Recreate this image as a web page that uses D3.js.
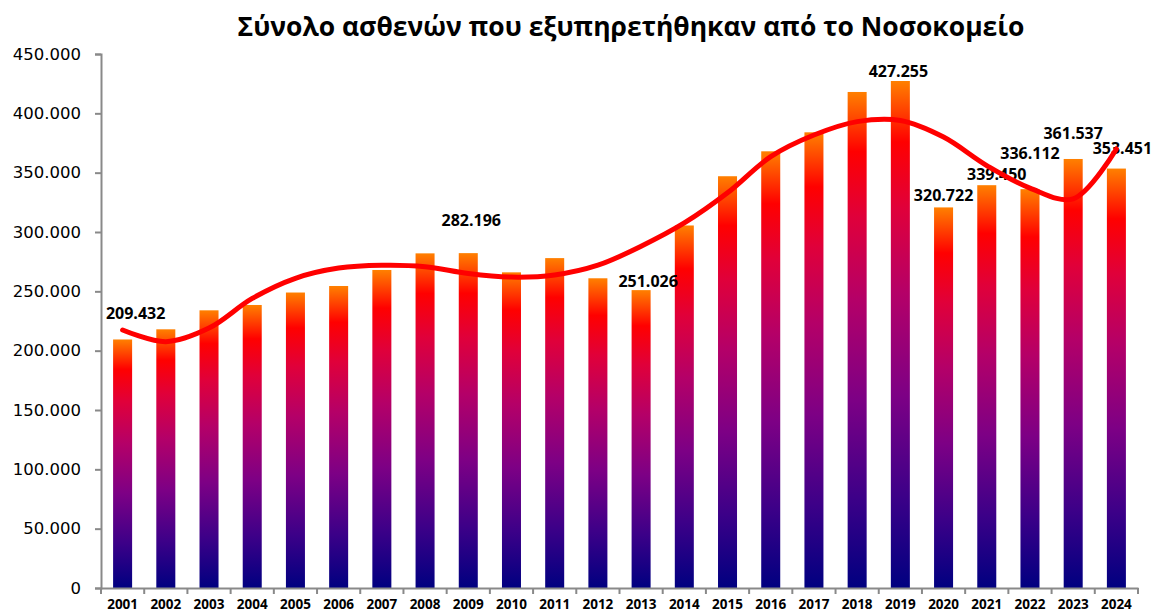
<!DOCTYPE html>
<html>
<head>
<meta charset="utf-8">
<script src="https://cdn.jsdelivr.net/npm/d3@7"></script>
<style>
  html, body { margin: 0; padding: 0; background: #fff; }
  svg { display: block; }
</style>
</head>
<body>
<svg id="chart" width="1153" height="615"></svg>
<script>
// ---- data ----
const years = ["2001","2002","2003","2004","2005","2006","2007","2008","2009","2010","2011","2012",
               "2013","2014","2015","2016","2017","2018","2019","2020","2021","2022","2023","2024"];
const patients = [209432, 218000, 234000, 238500, 249000, 254500, 268000, 282000, 282196, 266000, 278000, 261000,
                  251026, 305500, 347000, 368000, 384000, 418000, 427255, 320722, 339450, 336112, 361537, 353451];
// trendline (polynomial) at each year
const trend = [217400, 207600, 219000, 244000, 261000, 269600, 272000, 270800, 265000, 262000, 263800, 272000,
               288000, 307600, 333000, 363500, 381700, 393000, 394000, 380000, 356000, 337000, 328000, 370000];
const labelledYears = ["2001","2009","2013","2019","2020","2021","2022","2023","2024"];
const yTicks = [0, 50000, 100000, 150000, 200000, 250000, 300000, 350000, 400000, 450000];
const title = "Σύνολο ασθενών που εξυπηρετήθηκαν από το Νοσοκομείο";

(function () {
// label placement nudges (style, not data)
const labelNudge = {
  "2001": [13, -20], "2009": [3, -27], "2013": [7, -3], "2019": [-2, -4], "2020": [0, -6],
  "2021": [10, -5], "2022": [0, -30], "2023": [0, -20], "2024": [6, -15]
};

const svg = d3.select("#chart");
const pLeft = 101, pRight = 1138, pTop = 54, pBottom = 588;

const x = d3.scaleBand().domain(years).range([pLeft, pRight]).paddingInner(0.56).paddingOuter(0.28);
const y = d3.scaleLinear().domain([0, 450000]).range([pBottom, pTop]);

const loc = d3.formatLocale({decimal: ",", thousands: ".", grouping: [3], currency: ["", ""]});
const fmt = loc.format(",d");

// gradient per bar
const defs = svg.append("defs");
const grad = defs.append("linearGradient").attr("id", "barGrad")
  .attr("x1", 0).attr("y1", 0).attr("x2", 0).attr("y2", 1);
[[0, "#ff8000"], [0.12, "#ff0000"], [0.25, "#e0003a"], [0.42, "#b40068"], [0.62, "#7d0085"], [0.82, "#3c0088"], [1, "#000080"]]
  .forEach(([o, c]) => grad.append("stop").attr("offset", o).attr("stop-color", c));

// title
svg.append("text")
  .attr("x", 631).attr("y", 36)
  .attr("text-anchor", "middle")
  .attr("font-family", "'Open Sans', sans-serif")
  .attr("font-weight", "bold")
  .attr("font-size", 27)
  .attr("textLength", 787)
  .attr("lengthAdjust", "spacingAndGlyphs")
  .attr("fill", "#000")
  .text(title);

// bars
svg.append("g").selectAll("rect").data(years).join("rect")
  .attr("x", d => x(d))
  .attr("y", (d, i) => y(patients[i]))
  .attr("width", x.bandwidth())
  .attr("height", (d, i) => y(0) - y(patients[i]))
  .attr("fill", "url(#barGrad)");

// y axis
const yAxis = svg.append("g").attr("transform", `translate(${pLeft},0)`)
  .call(d3.axisLeft(y).tickValues(yTicks).tickSize(6).tickPadding(14).tickFormat(d => d === 0 ? "0" : fmt(d)));
yAxis.select(".domain").attr("stroke", "#898989").attr("stroke-width", 2);
yAxis.selectAll(".tick line").attr("stroke", "#898989").attr("stroke-width", 2);
yAxis.selectAll(".tick text").attr("font-family", "'DejaVu Sans', sans-serif").attr("font-size", 16.5).attr("fill", "#000");

// x axis
const xAxis = svg.append("g").attr("transform", `translate(0,${pBottom})`)
  .call(d3.axisBottom(x).tickSize(0).tickPadding(11));
xAxis.select(".domain").attr("stroke", "#898989").attr("stroke-width", 2);
xAxis.selectAll(".tick text").attr("font-family", "'Open Sans', sans-serif").attr("font-weight", "bold")
  .attr("font-size", 13.5).attr("fill", "#000");
// tick marks at category boundaries
const boundaries = d3.range(years.length + 1).map(i => pLeft + i * (pRight - pLeft) / years.length);
svg.append("g").selectAll("line").data(boundaries).join("line")
  .attr("x1", d => d).attr("x2", d => d)
  .attr("y1", pBottom).attr("y2", pBottom + 6)
  .attr("stroke", "#898989").attr("stroke-width", 2);

// data labels
svg.append("g").selectAll("text").data(labelledYears).join("text")
  .attr("x", d => x(d) + x.bandwidth() / 2 + labelNudge[d][0])
  .attr("y", d => y(patients[years.indexOf(d)]) + labelNudge[d][1])
  .attr("text-anchor", "middle")
  .attr("font-family", "'Open Sans', sans-serif")
  .attr("font-weight", "bold")
  .attr("font-size", 16)
  .attr("fill", "#000")
  .text(d => fmt(patients[years.indexOf(d)]));

// trend line
const line = d3.line()
  .x((d, i) => x(years[i]) + x.bandwidth() / 2)
  .y(d => y(d))
  .curve(d3.curveCatmullRom.alpha(0.5));
svg.append("path")
  .attr("d", line(trend))
  .attr("fill", "none")
  .attr("stroke", "#ff0000")
  .attr("stroke-width", 5)
  .attr("stroke-linecap", "round");
})();
</script>
</body>
</html>
